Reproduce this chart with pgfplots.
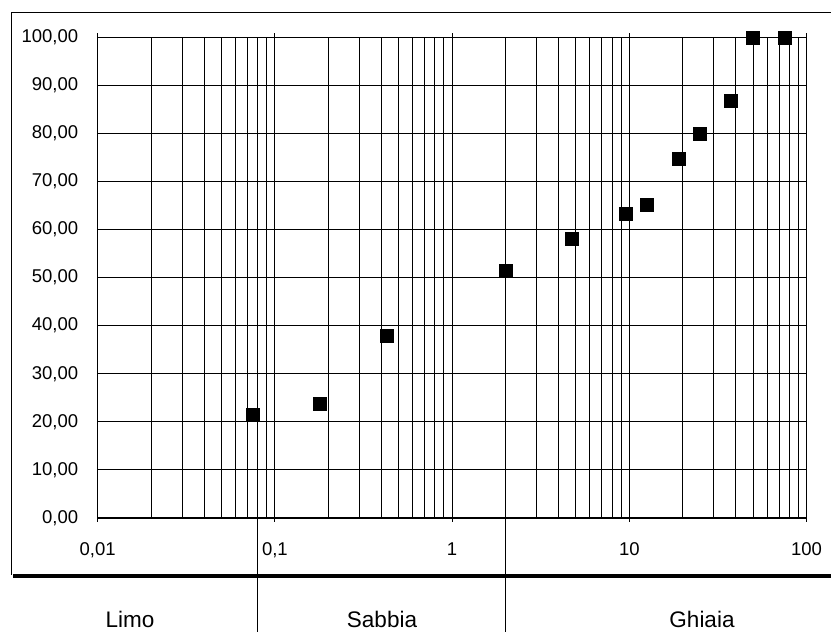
\documentclass[border=0pt]{standalone}
\usepackage{pgfplots}
\pgfplotsset{compat=1.18}
\usepackage{fontspec}
\setmainfont{Liberation Sans}

\begin{document}
\begin{tikzpicture}
\useasboundingbox (0,0) rectangle (831bp,632bp);
% outer frame
\draw[line width=1bp] (11bp,57bp) -- (11bp,619bp) -- (831bp,619bp);
\begin{axis}[
  at={(97.7bp,114bp)}, anchor=south west,
  scale only axis, width=708.8bp, height=480.7bp,
  xmode=log, xmin=0.01, xmax=100, ymin=0, ymax=100,
  xtick={0.01,0.1,1,10,100},
  xticklabels={{0,01},{0,1},1,10,100},
  ytick={0,10,20,30,40,50,60,70,80,90,100},
  yticklabels={{0,00},{10,00},{20,00},{30,00},{40,00},{50,00},{60,00},{70,00},{80,00},{90,00},{100,00}},
  grid=both,
  major grid style={black, line width=1bp},
  minor grid style={black, line width=1bp},
  axis line style={line width=1.4bp},
  tick align=outside, major tick length=4bp, minor tick length=0pt,
  ytick style={draw=none},
  xtick style={black, line width=1bp},
  tick label style={font=\fontsize{18.5bp}{20bp}\selectfont},
  xticklabel style={yshift=-17bp},
  yticklabel style={xshift=-12bp},
  clip=false,
]
\addplot[only marks, mark=square*, mark size=6.5bp, black] coordinates {
  (0.075,21.5) (0.18,23.8) (0.425,37.9) (2,51.5) (4.75,58.2) (9.5,63.3)
  (12.5,65.2) (19,74.8) (25,80.0) (37.5,86.8) (50,100) (75,100)
};
\coordinate (s1) at (axis cs:0.08,0);
\coordinate (s2) at (axis cs:2,0);
\end{axis}
% soil class band
\draw[line width=4bp] (13bp,56bp) -- (831bp,56bp);
\draw[line width=1bp] (s1) -- (s1 |- 0,0);
\draw[line width=1bp] (s2) -- (s2 |- 0,0);
\begin{scope}[every node/.style={font=\fontsize{22.5bp}{24bp}\selectfont}]
\node at (130bp,13bp) {Limo};
\node at (382bp,13bp) {Sabbia};
\node at (702bp,13bp) {Ghiaia};
\end{scope}
\end{tikzpicture}
\end{document}
